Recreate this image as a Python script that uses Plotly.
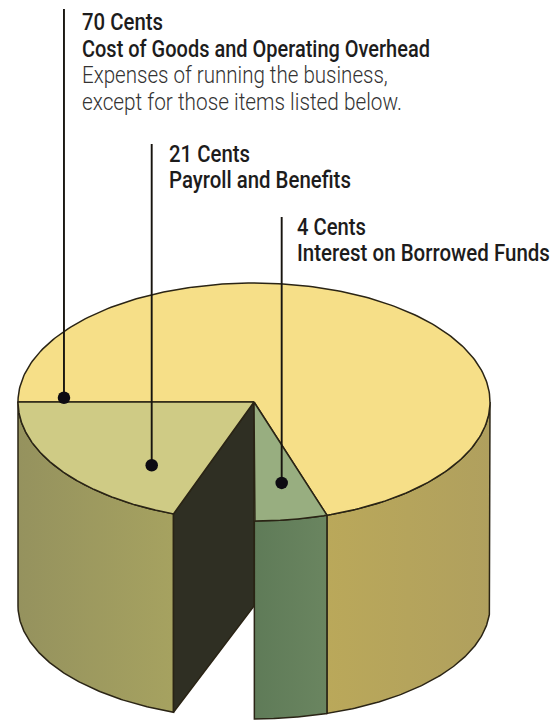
import json
import numpy as np
import plotly.graph_objects as go

# Where each cent of the dollar goes; the unlabelled 5 cents is the wedge cut out of the pie.
slice_names = ["Cost of Goods and Operating Overhead", "Payroll and Benefits", "Removed wedge", "Interest on Borrowed Funds"]
slice_cents = [70, 21, 5, 4]

# Text blocks: (text, font weight, set width in px) per line
label_lines = [
    [("70 Cents", 500, 81), ("Cost of Goods and Operating Overhead", 500, 348),
     ("Expenses of running the business,", 300, 306), ("except for those items listed below.", 300, 320)],
    [("21 Cents", 500, 81), ("Payroll and Benefits", 500, 182)],
    [("4 Cents", 500, 69), ("Interest on Borrowed Funds", 500, 253)],
]
label_x = [82, 169, 297]
label_first_y = [22, 153.5, 226.5]
line_step = 26.6

# Leader lines: share of the slice sweep and radial distance of each dot, and the line's top end
pointer_sweep = [0.99, 0.735, 0.55]
pointer_radius = [0.806, 0.686, 0.69]
pointer_top = [9, 144, 217]

# Pie drum geometry
cx, top_cy, base_cy = 254, 402, 606
rx, top_ry, base_ry = 236, 119, 113

FONT = "Roboto, Liberation Sans, sans-serif"
INK = "#2a2415"


def view_angle(t):
    """Sheared drawing of the front sector, which is slightly stretched towards the viewer."""
    t = np.asarray(t, dtype=float)
    f = np.clip((180 - t) / 108, 0, 1)
    return t + 5.6 * np.sin(np.pi * f ** 1.7)


def rim(t, cy, ry):
    a = np.radians(view_angle(t))
    return cx + rx * np.cos(a), cy + ry * np.sin(a)


def arc(start, end, cy, ry, n=120):
    return rim(np.linspace(start, end, n), cy, ry)


# Sweep boundaries, walking from the left edge of the disc down through the front.
degrees = [c * 3.6 for c in slice_cents]
t_left = 180.0
t_olive = t_left - degrees[1]
t_gap = t_olive - degrees[2]
t_green = t_gap - degrees[3]
t_yellow_end = t_green - degrees[0]

fig = go.Figure()


def face(xs, ys, fill=None, gradient=None, width=1.5):
    kw = dict(fillgradient=gradient) if gradient else dict(fillcolor=fill)
    fig.add_trace(go.Scatter(
        x=xs, y=ys, mode="lines", fill="toself", hoverinfo="skip", showlegend=False,
        line=dict(color=INK, width=width, shape="linear"), **kw))


def wall(start, end):
    tx, ty = arc(start, end, top_cy, top_ry)
    bx, by = arc(end, start, base_cy, base_ry)
    return np.r_[tx, bx, tx[0]], np.r_[ty, by, ty[0]]


def ramp(c0, c1):
    return dict(type="horizontal", colorscale=[[0, c0], [1, c1]])


# Outer walls
x, y = wall(t_green, 0)
face(x, y, gradient=ramp("#baa85a", "#b0a05e"))
x, y = wall(t_left, t_olive)
face(x, y, gradient=ramp("#95925e", "#a6a260"))
x, y = wall(t_gap, t_green)
face(x, y, gradient=ramp("#5f7b58", "#6a8560"))

# Cut face seen inside the removed wedge
ox_t, oy_t = rim(t_olive, top_cy, top_ry)
ox_b, oy_b = rim(t_olive, base_cy, base_ry)
face([cx, ox_t, ox_b, cx, cx], [top_cy, oy_t, oy_b, base_cy, top_cy], fill="#2f2f23")

# Top faces
for start, end, colour in [(t_green, t_yellow_end, "#f6df88"),
                           (t_left, t_olive, "#cfcb85"),
                           (t_gap, t_green, "#98ae80")]:
    ax, ay = arc(start, end, top_cy, top_ry, 240)
    face(np.r_[cx, ax, cx], np.r_[top_cy, ay, top_cy], fill=colour)

# Leader lines and dots
spans = [(t_green, t_yellow_end), (t_left, t_olive), (t_gap, t_green)]
for share, radius, top, (s, e) in zip(pointer_sweep, pointer_radius, pointer_top, spans):
    px, py = rim(s + (e - s) * share, top_cy, top_ry)
    dot_x = cx + (px - cx) * radius
    dot_y = top_cy + (py - top_cy) * radius
    fig.add_trace(go.Scatter(x=[dot_x, dot_x], y=[top, dot_y], mode="lines", hoverinfo="skip",
                             showlegend=False, line=dict(color="#17140f", width=1.9)))
    fig.add_trace(go.Scatter(x=[dot_x], y=[dot_y], mode="markers", hoverinfo="skip", showlegend=False,
                             marker=dict(color="#0d0b12", size=12.5, line=dict(width=0))))

# Labels
annotations = []
set_widths = {}
for lines, lx, ly in zip(label_lines, label_x, label_first_y):
    for i, (text, weight, width) in enumerate(lines):
        set_widths[text] = width
        annotations.append(dict(
            x=lx, y=ly + i * line_step, xref="x", yref="y", text=text, align="left",
            showarrow=False, xanchor="left", yanchor="middle", xshift=-2,
            font=dict(family=FONT, size=24, weight=weight,
                      color="#333333" if weight == 300 else "#1d1c1c")))

fig.update_layout(
    width=557, height=720, autosize=False, margin=dict(l=0, r=0, t=0, b=0),
    paper_bgcolor="white", plot_bgcolor="white", showlegend=False,
    xaxis=dict(range=[0, 557], visible=False, fixedrange=True),
    yaxis=dict(range=[720, 0], visible=False, fixedrange=True),
    annotations=annotations,
)

# The labels are set in a condensed cut: scale each line, and its box, to the set width.
condense = """
var widths = %s;
document.querySelectorAll('.annotation-text').forEach(function (t) {
  var w = widths[t.textContent];
  if (!w) { return; }
  var s = w / t.getComputedTextLength();
  var x0 = parseFloat(t.getAttribute('x')) || 0;
  t.setAttribute('transform', 'translate(' + x0 + ' 0) scale(' + s + ' 1) translate(' + (-x0) + ' 0)');
  var box = t.parentNode.querySelector('rect');
  if (box) { box.setAttribute('width', w); }
});
""" % json.dumps(set_widths)
fig.write_html("out.html", config={"displayModeBar": False}, post_script=condense)
